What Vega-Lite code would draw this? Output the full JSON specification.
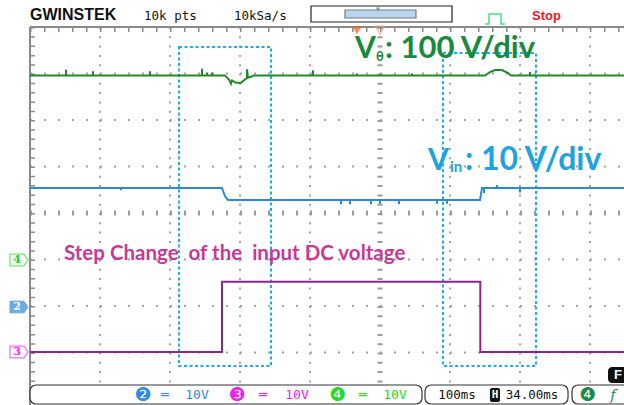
{
  "$schema": "https://vega.github.io/schema/vega-lite/v6.json",
  "width": 624,
  "height": 405,
  "autosize": "none",
  "padding": 0,
  "background": "white",
  "config": {"view": {"stroke": null}},
  "datasets": {
    "hrows": [
      {"y": 3, "x": 0, "x2": 9}, {"y": 2, "x": 0, "x2": 9}, {"y": 1, "x": 0, "x2": 9},
      {"y": -1, "x": 0, "x2": 9}, {"y": -2, "x": 0, "x2": 9}, {"y": -3, "x": 0, "x2": 9}
    ],
    "vcols": [
      {"x": 1, "y": 4, "y2": -4.3}, {"x": 2, "y": 4, "y2": -4.3}, {"x": 3, "y": 4, "y2": -4.3},
      {"x": 4, "y": 4, "y2": -4.3}, {"x": 6, "y": 4, "y2": -4.3}, {"x": 7, "y": 4, "y2": -4.3},
      {"x": 8, "y": 4, "y2": -4.3}
    ],
    "hframe": [{"y": 4, "x": 0, "x2": 9}],
    "vframe": [{"x": 0, "y": 4, "y2": -4.3}],
    "hcenter": [{"y": 0, "x": 0, "x2": 9}],
    "vcenter": [{"x": 5, "y": 4, "y2": -4.3}],
    "zones": [
      {"x": 2.129, "x2": 3.443, "y": 3.57, "y2": -3.29},
      {"x": 5.9, "x2": 7.229, "y": 3.441, "y2": -3.29}
    ],
    "traces": [
      {"ch": "3", "i": 0, "x": 0, "y": -2.99},
      {"ch": "3", "i": 1, "x": 2.743, "y": -2.99},
      {"ch": "3", "i": 2, "x": 2.743, "y": -1.48},
      {"ch": "3", "i": 3, "x": 6.433, "y": -1.48},
      {"ch": "3", "i": 4, "x": 6.433, "y": -2.99},
      {"ch": "3", "i": 5, "x": 8.6, "y": -2.99},
      {"ch": "2", "i": 10, "x": 0, "y": 0.54},
      {"ch": "2", "i": 11, "x": 1.3, "y": 0.54},
      {"ch": "2", "i": 12, "x": 1.3, "y": 0.49},
      {"ch": "2", "i": 13, "x": 1.3, "y": 0.54},
      {"ch": "2", "i": 14, "x": 2.743, "y": 0.54},
      {"ch": "2", "i": 15, "x": 2.786, "y": 0.36},
      {"ch": "2", "i": 16, "x": 2.829, "y": 0.28},
      {"ch": "2", "i": 17, "x": 4.443, "y": 0.28},
      {"ch": "2", "i": 18, "x": 4.443, "y": 0.19},
      {"ch": "2", "i": 19, "x": 4.443, "y": 0.28},
      {"ch": "2", "i": 20, "x": 4.571, "y": 0.28},
      {"ch": "2", "i": 21, "x": 4.571, "y": 0.19},
      {"ch": "2", "i": 22, "x": 4.571, "y": 0.28},
      {"ch": "2", "i": 23, "x": 4.871, "y": 0.28},
      {"ch": "2", "i": 24, "x": 4.871, "y": 0.19},
      {"ch": "2", "i": 25, "x": 4.871, "y": 0.28},
      {"ch": "2", "i": 26, "x": 5.0, "y": 0.28},
      {"ch": "2", "i": 27, "x": 5.0, "y": 0.2},
      {"ch": "2", "i": 28, "x": 5.0, "y": 0.28},
      {"ch": "2", "i": 29, "x": 5.271, "y": 0.28},
      {"ch": "2", "i": 30, "x": 5.271, "y": 0.19},
      {"ch": "2", "i": 31, "x": 5.271, "y": 0.28},
      {"ch": "2", "i": 32, "x": 5.814, "y": 0.28},
      {"ch": "2", "i": 33, "x": 5.814, "y": 0.2},
      {"ch": "2", "i": 34, "x": 5.814, "y": 0.28},
      {"ch": "2", "i": 35, "x": 5.957, "y": 0.28},
      {"ch": "2", "i": 36, "x": 5.957, "y": 0.2},
      {"ch": "2", "i": 37, "x": 5.957, "y": 0.28},
      {"ch": "2", "i": 38, "x": 6.429, "y": 0.28},
      {"ch": "2", "i": 39, "x": 6.457, "y": 0.54},
      {"ch": "2", "i": 40, "x": 6.486, "y": 0.54},
      {"ch": "2", "i": 41, "x": 6.486, "y": 0.43},
      {"ch": "2", "i": 42, "x": 6.486, "y": 0.54},
      {"ch": "2", "i": 43, "x": 6.671, "y": 0.54},
      {"ch": "2", "i": 44, "x": 6.671, "y": 0.6},
      {"ch": "2", "i": 45, "x": 6.671, "y": 0.54},
      {"ch": "2", "i": 46, "x": 7.0, "y": 0.54},
      {"ch": "2", "i": 47, "x": 7.0, "y": 0.44},
      {"ch": "2", "i": 48, "x": 7.0, "y": 0.54},
      {"ch": "2", "i": 49, "x": 8.6, "y": 0.54},
      {"ch": "4", "i": 60, "x": 0, "y": 2.957},
      {"ch": "4", "i": 61, "x": 0.514, "y": 2.957},
      {"ch": "4", "i": 62, "x": 0.514, "y": 3.08},
      {"ch": "4", "i": 63, "x": 0.514, "y": 2.957},
      {"ch": "4", "i": 64, "x": 0.9, "y": 2.957},
      {"ch": "4", "i": 65, "x": 0.9, "y": 3.05},
      {"ch": "4", "i": 66, "x": 0.9, "y": 2.957},
      {"ch": "4", "i": 67, "x": 1.714, "y": 2.957},
      {"ch": "4", "i": 68, "x": 1.714, "y": 3.05},
      {"ch": "4", "i": 69, "x": 1.714, "y": 2.957},
      {"ch": "4", "i": 70, "x": 2.457, "y": 2.957},
      {"ch": "4", "i": 71, "x": 2.457, "y": 3.1},
      {"ch": "4", "i": 72, "x": 2.457, "y": 2.957},
      {"ch": "4", "i": 73, "x": 2.529, "y": 2.957},
      {"ch": "4", "i": 74, "x": 2.529, "y": 3.02},
      {"ch": "4", "i": 75, "x": 2.529, "y": 2.957},
      {"ch": "4", "i": 76, "x": 2.6, "y": 2.957},
      {"ch": "4", "i": 77, "x": 2.6, "y": 3.02},
      {"ch": "4", "i": 78, "x": 2.6, "y": 2.957},
      {"ch": "4", "i": 79, "x": 2.786, "y": 2.957},
      {"ch": "4", "i": 80, "x": 2.843, "y": 2.87},
      {"ch": "4", "i": 81, "x": 2.871, "y": 2.78},
      {"ch": "4", "i": 82, "x": 2.886, "y": 2.85},
      {"ch": "4", "i": 83, "x": 2.943, "y": 2.8},
      {"ch": "4", "i": 84, "x": 3.014, "y": 2.8},
      {"ch": "4", "i": 85, "x": 3.071, "y": 2.87},
      {"ch": "4", "i": 86, "x": 3.1, "y": 2.9},
      {"ch": "4", "i": 87, "x": 3.1, "y": 3.09},
      {"ch": "4", "i": 88, "x": 3.114, "y": 2.91},
      {"ch": "4", "i": 89, "x": 3.157, "y": 2.93},
      {"ch": "4", "i": 90, "x": 3.2, "y": 2.957},
      {"ch": "4", "i": 91, "x": 4.043, "y": 2.957},
      {"ch": "4", "i": 92, "x": 4.043, "y": 3.07},
      {"ch": "4", "i": 93, "x": 4.043, "y": 2.957},
      {"ch": "4", "i": 94, "x": 4.671, "y": 2.957},
      {"ch": "4", "i": 95, "x": 4.671, "y": 3.0},
      {"ch": "4", "i": 96, "x": 4.671, "y": 2.957},
      {"ch": "4", "i": 97, "x": 5.457, "y": 2.957},
      {"ch": "4", "i": 98, "x": 5.457, "y": 3.0},
      {"ch": "4", "i": 99, "x": 5.457, "y": 2.957},
      {"ch": "4", "i": 100, "x": 6.5, "y": 2.957},
      {"ch": "4", "i": 101, "x": 6.571, "y": 3.03},
      {"ch": "4", "i": 102, "x": 6.643, "y": 3.075},
      {"ch": "4", "i": 103, "x": 6.743, "y": 3.075},
      {"ch": "4", "i": 104, "x": 6.829, "y": 3.01},
      {"ch": "4", "i": 105, "x": 6.871, "y": 2.957},
      {"ch": "4", "i": 106, "x": 7.143, "y": 2.957},
      {"ch": "4", "i": 107, "x": 7.143, "y": 3.03},
      {"ch": "4", "i": 108, "x": 7.143, "y": 2.957},
      {"ch": "4", "i": 109, "x": 8.6, "y": 2.957}
    ],
    "pulse": [
      {"i": 0, "x": 6.5, "y": 4.065},
      {"i": 1, "x": 6.557, "y": 4.065},
      {"i": 2, "x": 6.557, "y": 4.28},
      {"i": 3, "x": 6.729, "y": 4.28},
      {"i": 4, "x": 6.729, "y": 4.065},
      {"i": 5, "x": 6.786, "y": 4.065}
    ]
  },
  "encoding": {
    "x": {"field": "x", "type": "quantitative", "scale": {"domain": [-0.428571, 8.485714], "nice": false, "zero": false}, "axis": null},
    "y": {"field": "y", "type": "quantitative", "scale": {"domain": [-4.129032, 4.580645], "nice": false, "zero": false}, "axis": null}
  },
  "layer": [
    {"data": {"name": "hrows"}, "mark": {"type": "rule", "color": "#a3a3a3", "strokeWidth": 2, "strokeDash": [2, 12]},
     "encoding": {"x2": {"field": "x2"}}},
    {"data": {"name": "vcols"}, "mark": {"type": "rule", "color": "#a3a3a3", "strokeWidth": 2, "strokeDash": [2, 7.3]},
     "encoding": {"y2": {"field": "y2"}}},
    {"data": {"name": "hcenter"}, "mark": {"type": "rule", "color": "#9a9a9a", "strokeWidth": 5, "strokeDash": [2, 12]},
     "encoding": {"x2": {"field": "x2"}}},
    {"data": {"name": "vcenter"}, "mark": {"type": "rule", "color": "#9a9a9a", "strokeWidth": 5, "strokeDash": [2, 7.3]},
     "encoding": {"y2": {"field": "y2"}}},
    {"data": {"name": "vframe"}, "mark": {"type": "rule", "color": "#8a8a8a", "strokeWidth": 2},
     "encoding": {"y2": {"field": "y2"}}},
    {"data": {"name": "vframe"}, "mark": {"type": "rule", "color": "#8a8a8a", "strokeWidth": 5, "strokeDash": [1.5, 7.8], "xOffset": 2.5},
     "encoding": {"y2": {"field": "y2"}}},
    {"data": {"name": "hframe"}, "mark": {"type": "rule", "color": "#8a8a8a", "strokeWidth": 2},
     "encoding": {"x2": {"field": "x2"}}},
    {"data": {"name": "hframe"}, "mark": {"type": "rule", "color": "#8a8a8a", "strokeWidth": 5, "strokeDash": [1.5, 12.5], "yOffset": 2.5},
     "encoding": {"x2": {"field": "x2"}}},
    {"data": {"name": "zones"}, "mark": {"type": "rect", "fillOpacity": 0, "stroke": "#1aaeea", "strokeWidth": 2, "strokeDash": [3, 2.5]},
     "encoding": {"x2": {"field": "x2"}, "y2": {"field": "y2"}}},
    {"data": {"name": "traces"}, "mark": {"type": "line", "strokeWidth": 2, "interpolate": "linear"},
     "encoding": {
       "color": {"field": "ch", "type": "nominal", "scale": {"domain": ["2", "3", "4"], "range": ["#2a8ad8", "#8f2490", "#1f8a2a"]}, "legend": null},
       "order": {"field": "i", "type": "quantitative"}}},
    {"data": {"values": [{"x": 4.643, "y": 3.333, "t": "V"}]}, "mark": {"type": "text", "font": "Lato, DejaVu Sans", "fontWeight": "bold", "fontSize": 30, "color": "#178a3c", "align": "left", "baseline": "alphabetic"},
     "encoding": {"text": {"field": "t"}}},
    {"data": {"values": [{"x": 4.943, "y": 3.26, "t": "θ"}]}, "mark": {"type": "text", "font": "Lato, DejaVu Sans", "fontWeight": "bold", "fontSize": 13, "color": "#178a3c", "align": "left", "baseline": "alphabetic"},
     "encoding": {"text": {"field": "t"}}},
    {"data": {"values": [{"x": 5.071, "y": 3.333, "t": ": 100 V/div"}]}, "mark": {"type": "text", "font": "Lato, DejaVu Sans", "fontWeight": "bold", "fontSize": 31, "color": "#178a3c", "align": "left", "baseline": "alphabetic"},
     "encoding": {"text": {"field": "t"}}},
    {"data": {"values": [{"x": 5.686, "y": 0.925, "t": "V"}]}, "mark": {"type": "text", "font": "Lato, DejaVu Sans", "fontWeight": "bold", "fontSize": 30, "color": "#1ea2e2", "align": "left", "baseline": "alphabetic"},
     "encoding": {"text": {"field": "t"}}},
    {"data": {"values": [{"x": 6.0, "y": 0.882, "t": "in"}]}, "mark": {"type": "text", "font": "Lato, DejaVu Sans", "fontWeight": "bold", "fontSize": 15, "color": "#1ea2e2", "align": "left", "baseline": "alphabetic"},
     "encoding": {"text": {"field": "t"}}},
    {"data": {"values": [{"x": 6.214, "y": 0.925, "t": ": 10 V/div"}]}, "mark": {"type": "text", "font": "Lato, DejaVu Sans", "fontWeight": "bold", "fontSize": 32, "color": "#1ea2e2", "align": "left", "baseline": "alphabetic"},
     "encoding": {"text": {"field": "t"}}},
    {"data": {"values": [{"x": 0.486, "y": -1.0, "t": "Step Change\u00a0 of the\u00a0 input DC voltage"}]}, "mark": {"type": "text", "font": "Lato, DejaVu Sans", "fontWeight": "bold", "fontSize": 20.5, "color": "#c83894", "align": "left", "baseline": "alphabetic"},
     "encoding": {"text": {"field": "t"}}},
    {"data": {"values": [{"x": 0.0, "y": 4.258, "t": "GWINSTEK"}]}, "mark": {"type": "text", "font": "Liberation Sans", "fontWeight": "bold", "fontSize": 16, "color": "#111111", "align": "left", "baseline": "middle"},
     "encoding": {"text": {"field": "t"}}},
    {"data": {"values": [{"x": 1.629, "y": 4.24, "t": "10k pts"}, {"x": 2.914, "y": 4.24, "t": "10kSa/s"}]}, "mark": {"type": "text", "font": "DejaVu Sans Mono", "fontSize": 12.5, "color": "#111111", "align": "left", "baseline": "middle"},
     "encoding": {"text": {"field": "t"}}},
    {"data": {"values": [{"x": 4.014, "x2": 6.029, "y": 4.452, "y2": 4.108}]}, "mark": {"type": "rect", "fill": "white", "stroke": "#222222", "strokeWidth": 1.2},
     "encoding": {"x2": {"field": "x2"}, "y2": {"field": "y2"}}},
    {"data": {"values": [{"x": 4.5, "x2": 5.514, "y": 4.366, "y2": 4.194}]}, "mark": {"type": "rect", "fill": "#b9d7ef", "stroke": "#7a7a7a", "strokeWidth": 1.2},
     "encoding": {"x2": {"field": "x2"}, "y2": {"field": "y2"}}},
    {"data": {"values": [{"x": 4.971, "y": 4.38}]}, "mark": {"type": "point", "shape": "triangle-down", "filled": true, "size": 20, "color": "#2a7ad0"}},
    {"data": {"name": "pulse"}, "mark": {"type": "line", "color": "#44e088", "strokeWidth": 1.5},
     "encoding": {"order": {"field": "i", "type": "quantitative"}}},
    {"data": {"values": [{"x": 7.171, "y": 4.245, "t": "Stop"}]}, "mark": {"type": "text", "font": "Liberation Sans", "fontWeight": "bold", "fontSize": 13, "color": "#f0141e", "align": "left", "baseline": "middle"},
     "encoding": {"text": {"field": "t"}}},
    {"data": {"values": [{"x": 4.671, "y": 3.93}]}, "mark": {"type": "point", "shape": "triangle-down", "filled": true, "size": 90, "color": "#f25c14"}},
    {"data": {"values": [{"x": 5.0, "y": 3.93}]}, "mark": {"type": "point", "shape": "triangle-down", "filled": false, "size": 90, "color": "#f5a080", "strokeWidth": 1.2}},
    {"data": {"values": [{"x": 0.0, "x2": 5.6, "y": -3.699, "y2": -4.108}, {"x": 5.643, "x2": 7.686, "y": -3.699, "y2": -4.108}, {"x": 7.743, "x2": 8.7, "y": -3.699, "y2": -4.108}]},
     "mark": {"type": "rect", "fill": "white", "stroke": "#333333", "strokeWidth": 1.2, "cornerRadius": 6},
     "encoding": {"x2": {"field": "x2"}, "y2": {"field": "y2"}}},
    {"data": {"values": [{"x": 1.614, "y": -3.914, "t": "❷"}]}, "mark": {"type": "text", "font": "DejaVu Sans", "fontSize": 19, "color": "#2f8be0", "align": "center", "baseline": "middle"},
     "encoding": {"text": {"field": "t"}}},
    {"data": {"values": [{"x": 1.929, "y": -3.914, "t": "═"}, {"x": 2.386, "y": -3.914, "t": "10V"}]},
     "mark": {"type": "text", "font": "DejaVu Sans Mono", "fontSize": 13, "color": "#2f8be0", "align": "center", "baseline": "middle"},
     "encoding": {"text": {"field": "t"}}},
    {"data": {"values": [{"x": 2.957, "y": -3.914, "t": "❸"}]}, "mark": {"type": "text", "font": "DejaVu Sans", "fontSize": 19, "color": "#f020f0", "align": "center", "baseline": "middle"},
     "encoding": {"text": {"field": "t"}}},
    {"data": {"values": [{"x": 3.329, "y": -3.914, "t": "═"}, {"x": 3.814, "y": -3.914, "t": "10V"}]},
     "mark": {"type": "text", "font": "DejaVu Sans Mono", "fontSize": 13, "color": "#f020f0", "align": "center", "baseline": "middle"},
     "encoding": {"text": {"field": "t"}}},
    {"data": {"values": [{"x": 4.4, "y": -3.914, "t": "❹"}]}, "mark": {"type": "text", "font": "DejaVu Sans", "fontSize": 19, "color": "#22dd22", "align": "center", "baseline": "middle"},
     "encoding": {"text": {"field": "t"}}},
    {"data": {"values": [{"x": 4.757, "y": -3.914, "t": "═"}, {"x": 5.214, "y": -3.914, "t": "10V"}]},
     "mark": {"type": "text", "font": "DejaVu Sans Mono", "fontSize": 13, "color": "#22dd22", "align": "center", "baseline": "middle"},
     "encoding": {"text": {"field": "t"}}},
    {"data": {"values": [{"x": 6.571, "x2": 6.714, "y": -3.763, "y2": -4.065}]}, "mark": {"type": "rect", "fill": "#111111", "cornerRadius": 2},
     "encoding": {"x2": {"field": "x2"}, "y2": {"field": "y2"}}},
    {"data": {"values": [{"x": 6.643, "y": -3.914, "t": "H"}]}, "mark": {"type": "text", "font": "DejaVu Sans Mono", "fontWeight": "bold", "fontSize": 11, "color": "white", "align": "center", "baseline": "middle"},
     "encoding": {"text": {"field": "t"}}},
    {"data": {"values": [{"x": 6.1, "y": -3.914, "t": "100ms"}, {"x": 7.171, "y": -3.914, "t": "34.00ms"}]},
     "mark": {"type": "text", "font": "DejaVu Sans Mono", "fontSize": 12.5, "color": "#111111", "align": "center", "baseline": "middle"},
     "encoding": {"text": {"field": "t"}}},
    {"data": {"values": [{"x": 7.971, "y": -3.914, "t": "❹"}]}, "mark": {"type": "text", "font": "DejaVu Sans", "fontSize": 19, "color": "#1e8a4a", "align": "center", "baseline": "middle"},
     "encoding": {"text": {"field": "t"}}},
    {"data": {"values": [{"x": 8.329, "y": -3.914, "t": "f"}]}, "mark": {"type": "text", "font": "DejaVu Serif", "fontStyle": "italic", "fontSize": 15, "color": "#1e8a4a", "align": "center", "baseline": "middle"},
     "encoding": {"text": {"field": "t"}}},
    {"data": {"values": [{"x": 8.257, "x2": 8.6, "y": -3.312, "y2": -3.656}]}, "mark": {"type": "rect", "fill": "#111111", "cornerRadius": 4},
     "encoding": {"x2": {"field": "x2"}, "y2": {"field": "y2"}}},
    {"data": {"values": [{"x": 8.4, "y": -3.484, "t": "F"}]}, "mark": {"type": "text", "font": "Liberation Sans", "fontWeight": "bold", "fontSize": 13, "color": "white", "align": "center", "baseline": "middle"},
     "encoding": {"text": {"field": "t"}}},
    {"data": {"values": [{"x": -0.157, "y": -1.011}]}, "mark": {"type": "point", "shape": "M-1,-0.65L0.55,-0.65L1,0L0.55,0.65L-1,0.65Z", "filled": true, "fill": "white", "stroke": "#33e633", "strokeWidth": 1.3, "size": 324}},
    {"data": {"values": [{"x": -0.157, "y": -2.022}]}, "mark": {"type": "point", "shape": "M-1,-0.65L0.55,-0.65L1,0L0.55,0.65L-1,0.65Z", "filled": true, "fill": "#2a88d8", "stroke": "#2a88d8", "strokeWidth": 1, "size": 324}},
    {"data": {"values": [{"x": -0.157, "y": -2.989}]}, "mark": {"type": "point", "shape": "M-1,-0.65L0.55,-0.65L1,0L0.55,0.65L-1,0.65Z", "filled": true, "fill": "white", "stroke": "#ff33ff", "strokeWidth": 1.3, "size": 324}},
    {"data": {"values": [{"x": -0.186, "y": -1.011, "t": "4"}]}, "mark": {"type": "text", "font": "DejaVu Serif", "fontWeight": "bold", "fontSize": 11, "color": "#22cc22", "align": "center", "baseline": "middle"},
     "encoding": {"text": {"field": "t"}}},
    {"data": {"values": [{"x": -0.186, "y": -2.022, "t": "2"}]}, "mark": {"type": "text", "font": "DejaVu Serif", "fontWeight": "bold", "fontSize": 11, "color": "white", "align": "center", "baseline": "middle"},
     "encoding": {"text": {"field": "t"}}},
    {"data": {"values": [{"x": -0.186, "y": -2.989, "t": "3"}]}, "mark": {"type": "text", "font": "DejaVu Serif", "fontWeight": "bold", "fontSize": 11, "color": "#ff22ff", "align": "center", "baseline": "middle"},
     "encoding": {"text": {"field": "t"}}}
  ]
}
